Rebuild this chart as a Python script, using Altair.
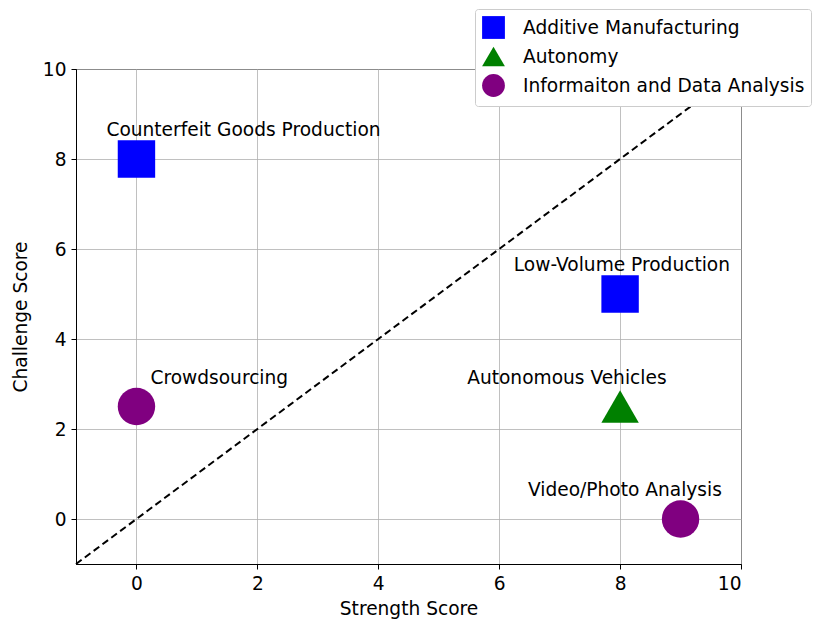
import altair as alt
import pandas as pd

names = ["Counterfeit Goods Production", "Low-Volume Production", "Autonomous Vehicles",
         "Crowdsourcing", "Video/Photo Analysis"]
categories = ["Additive Manufacturing", "Additive Manufacturing", "Autonomy",
              "Informaiton and Data Analysis", "Informaiton and Data Analysis"]
strength = [0, 8, 8, 0, 9]
challenge = [8, 5, 2.5, 2.5, 0]
label_x = [1.77, 8.03, 7.12, 1.37, 8.08]
label_y = [8.64, 5.64, 3.13, 3.13, 0.64]

legend_order = ["Additive Manufacturing", "Autonomy", "Informaiton and Data Analysis"]
colors = ["blue", "green", "purple"]
shapes = ["square", "triangle-up", "circle"]

diag = [-1, 10]

df = pd.DataFrame({"name": names, "category": categories, "strength": strength,
                   "challenge": challenge, "lx": label_x, "ly": label_y})
diag_df = pd.DataFrame({"x": diag, "y": diag})

xscale = alt.Scale(domain=[-1, 10], nice=False, zero=False)
yscale = alt.Scale(domain=[-1, 10], nice=False, zero=False)
ticks = [0, 2, 4, 6, 8, 10]

xaxis = alt.Axis(values=ticks, title="Strength Score", grid=True, format="d", titlePadding=7)
yaxis = alt.Axis(values=ticks, title="Challenge Score", grid=True, format="d", titlePadding=12)

FS = 18.6

line = alt.Chart(diag_df).mark_line(color="black", strokeDash=[7, 4], strokeWidth=2).encode(
    x=alt.X("x:Q", scale=xscale, axis=xaxis),
    y=alt.Y("y:Q", scale=yscale, axis=yaxis),
)

points = alt.Chart(df).mark_point(filled=True, opacity=1, size=1400).encode(
    x=alt.X("strength:Q", scale=xscale),
    y=alt.Y("challenge:Q", scale=yscale),
    color=alt.Color("category:N", scale=alt.Scale(domain=legend_order, range=colors),
                    legend=alt.Legend(title=None, orient="none", legendX=399, legendY=-60,
                                      fillColor="white", strokeColor="#cccccc",
                                      cornerRadius=3, padding=6, symbolSize=520,
                                      labelFontSize=FS, labelFont="DejaVu Sans",
                                      labelColor="black", labelLimit=400,
                                      rowPadding=1, labelOffset=17, symbolOpacity=1)),
    shape=alt.Shape("category:N", scale=alt.Scale(domain=legend_order, range=shapes)),
)

labels = alt.Chart(df).mark_text(fontSize=FS, font="DejaVu Sans", color="black").encode(
    x=alt.X("lx:Q", scale=xscale),
    y=alt.Y("ly:Q", scale=yscale),
    text="name:N",
)

chart = alt.layer(line, points, labels).properties(
    width=665, height=495,
    padding={"left": 3, "top": 0, "right": 0, "bottom": 0},
).configure_view(stroke="black", strokeWidth=1).configure_axis(
    domainColor="black", tickColor="black", tickSize=5, gridColor="#b0b0b0",
    gridWidth=0.8, labelFontSize=FS, titleFontSize=FS, labelFont="DejaVu Sans",
    titleFont="DejaVu Sans", titleFontWeight="normal", labelColor="black",
    titleColor="black", labelPadding=5,
)

chart.save("out.html", embed_options={"renderer": "svg", "actions": False})
